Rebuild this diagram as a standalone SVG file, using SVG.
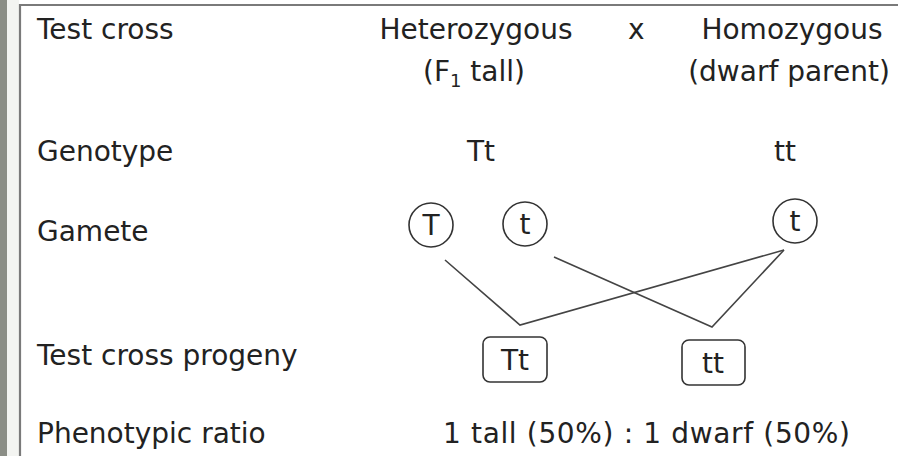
<svg xmlns="http://www.w3.org/2000/svg" width="898" height="456" viewBox="0 0 898 456">
<style>
text{font-family:"DejaVu Sans",Verdana,sans-serif;font-size:28px;fill:#222222}
.m{text-anchor:middle}
.c{fill:none;stroke:#333;stroke-width:1.6}
.b{fill:none;stroke:#333;stroke-width:1.6}
.l{fill:none;stroke:#444;stroke-width:1.6}
</style>
<rect x="0" y="0" width="898" height="456" fill="#ffffff"/>
<rect x="0" y="0" width="7" height="456" fill="#8b8e86"/>
<rect x="7" y="0" width="12" height="456" fill="#f3f4f1"/>
<path d="M20 456V5H898" fill="none" stroke="#7a7a7a" stroke-width="2.2"/>
<g id="labels">
<text x="37" y="39">Test cross</text>
<text x="37" y="161">Genotype</text>
<text x="37" y="241">Gamete</text>
<text x="37" y="365">Test cross progeny</text>
<text x="37" y="443">Phenotypic ratio</text>
</g>
<g id="heterozygous">
<text class="m" x="476" y="39">Heterozygous</text>
<text class="m" x="474" y="81">(F<tspan font-size="18" dy="6">1</tspan><tspan dy="-6"> tall)</tspan></text>
</g>
<text id="cross-x" x="628" y="39">x</text>
<g id="homozygous">
<text class="m" x="792" y="39">Homozygous</text>
<text class="m" x="789" y="81">(dwarf parent)</text>
</g>
<text id="genotype-Tt" class="m" x="481" y="161">Tt</text>
<text id="genotype-tt" class="m" x="785" y="161">tt</text>
<g id="gamete-T">
<circle class="c" cx="431" cy="225" r="22"/>
<text class="m" x="431" y="235">T</text>
</g>
<g id="gamete-t1">
<circle class="c" cx="525" cy="224" r="22"/>
<text class="m" x="525" y="234">t</text>
</g>
<g id="gamete-t2">
<circle class="c" cx="795" cy="221" r="22"/>
<text class="m" x="795" y="231">t</text>
</g>
<g id="connectors">
<polyline class="l" points="445,260 520,325 784,250"/>
<polyline class="l" points="554,257 712,327 784,250"/>
</g>
<g id="progeny-Tt">
<rect class="b" x="483" y="337" width="64" height="45" rx="7"/>
<text class="m" x="515" y="370">Tt</text>
</g>
<g id="progeny-tt">
<rect class="b" x="682" y="340" width="63" height="45" rx="7"/>
<text class="m" x="713" y="373">tt</text>
</g>
<text id="ratio" x="443" y="443" textLength="407" lengthAdjust="spacing">1 tall (50%) : 1 dwarf (50%)</text>
</svg>
